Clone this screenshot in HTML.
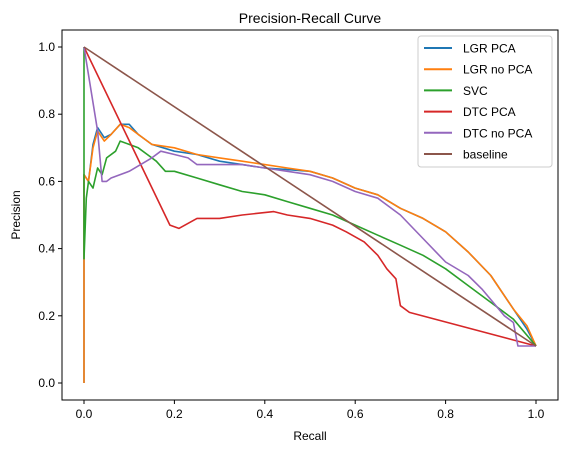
<!DOCTYPE html>
<html><head><meta charset="utf-8"><style>
body{margin:0;background:#fff;}
svg{font-family:"Liberation Sans","DejaVu Sans",sans-serif;}
</style></head><body>
<svg id="chart" width="567" height="453" xmlns="http://www.w3.org/2000/svg">
<rect width="567" height="453" fill="#fff"/>
<text x="310" y="23" text-anchor="middle" font-size="14">Precision-Recall Curve</text>
<g id="axes"></g>
<g id="series"></g>
<rect x="62" y="30" width="496" height="370" fill="none" stroke="#000" stroke-width="1"/>
<g id="legend"></g>
<text x="310" y="440" text-anchor="middle" font-size="12">Recall</text>
<text x="20" y="215" text-anchor="middle" font-size="12" transform="rotate(-90 20 215)">Precision</text>
</svg>
<script>
const xTicks=[0,0.2,0.4,0.6,0.8,1.0];
const yTicks=[0,0.2,0.4,0.6,0.8,1.0];
const seriesNames=["LGR PCA","LGR no PCA","SVC","DTC PCA","DTC no PCA","baseline"];
const seriesColors=["#1f77b4","#ff7f0e","#2ca02c","#d62728","#9467bd","#8c564b"];
const lgrPcaR=[0,0,0.01,0.02,0.03,0.045,0.06,0.08,0.1,0.12,0.15,0.2,0.25,0.3,0.35,0.4,0.45,0.5,0.55,0.6,0.65,0.7,0.75,0.8,0.85,0.9,0.95,0.98,1.0];
const lgrPcaP=[0,0.62,0.6,0.71,0.76,0.73,0.74,0.77,0.77,0.74,0.71,0.69,0.68,0.66,0.65,0.64,0.635,0.63,0.61,0.58,0.56,0.52,0.49,0.45,0.39,0.32,0.22,0.16,0.11];
const lgrNoR=[0,0,0.01,0.02,0.03,0.045,0.06,0.08,0.1,0.12,0.15,0.2,0.25,0.3,0.35,0.4,0.45,0.5,0.55,0.6,0.65,0.7,0.75,0.8,0.85,0.9,0.95,0.98,1.0];
const lgrNoP=[0,0.62,0.6,0.7,0.75,0.72,0.74,0.77,0.76,0.74,0.71,0.70,0.68,0.67,0.66,0.65,0.64,0.63,0.61,0.58,0.56,0.52,0.49,0.45,0.39,0.32,0.22,0.17,0.11];
const svcR=[0,0,0.005,0.01,0.02,0.03,0.04,0.05,0.07,0.08,0.1,0.12,0.14,0.16,0.18,0.2,0.25,0.3,0.35,0.4,0.45,0.5,0.55,0.6,0.65,0.7,0.75,0.8,0.85,0.9,0.95,1.0];
const svcP=[1,0.37,0.55,0.6,0.58,0.64,0.62,0.67,0.69,0.72,0.71,0.70,0.68,0.66,0.63,0.63,0.61,0.59,0.57,0.56,0.54,0.52,0.50,0.47,0.44,0.41,0.38,0.34,0.29,0.24,0.19,0.11];
const dtcPcaR=[0,0.19,0.21,0.25,0.3,0.35,0.42,0.45,0.5,0.55,0.58,0.62,0.65,0.67,0.69,0.7,0.72,1.0];
const dtcPcaP=[1,0.47,0.46,0.49,0.49,0.50,0.51,0.50,0.49,0.47,0.45,0.42,0.38,0.34,0.31,0.23,0.21,0.11];
const dtcNoR=[0,0.03,0.04,0.05,0.06,0.1,0.15,0.17,0.2,0.23,0.25,0.3,0.35,0.4,0.45,0.5,0.55,0.6,0.65,0.7,0.75,0.8,0.85,0.88,0.93,0.95,0.96,1.0];
const dtcNoP=[1,0.75,0.6,0.6,0.61,0.63,0.67,0.69,0.68,0.67,0.65,0.65,0.65,0.64,0.63,0.62,0.60,0.57,0.55,0.50,0.43,0.36,0.32,0.28,0.20,0.18,0.11,0.11];
const baseR=[0,1];
const baseP=[1,0.11];
const allR=[lgrPcaR,lgrNoR,svcR,dtcPcaR,dtcNoR,baseR];
const allP=[lgrPcaP,lgrNoP,svcP,dtcPcaP,dtcNoP,baseP];
const NS="http://www.w3.org/2000/svg";
const xs=v=>84+452*v, ys=v=>383-336*v;
const axes=document.getElementById('axes');
function mk(tag,attrs,parent){const e=document.createElementNS(NS,tag);for(const k in attrs)e.setAttribute(k,attrs[k]);parent.appendChild(e);return e;}
xTicks.forEach(t=>{
  const l=mk('line',{x1:xs(t),x2:xs(t),y1:400,y2:404,stroke:'#000'},axes);
  
  
  const tx=mk('text',{x:xs(t),y:418,'text-anchor':'middle','font-size':'12'},axes);
  tx.textContent=t.toFixed(1);
  
  
});
yTicks.forEach(t=>{
  const l=mk('line',{x1:58,x2:62,y1:ys(t),y2:ys(t),stroke:'#000'},axes);
  
  
  const tx=mk('text',{x:55,y:ys(t)+4,'text-anchor':'end','font-size':'12'},axes);
  tx.textContent=t.toFixed(1);
  
  
});
const sg=document.getElementById('series');
allR.forEach((R,i)=>{
  const pts=R.map((r,j)=>xs(r).toFixed(1)+','+ys(allP[i][j]).toFixed(1)).join(' ');
  const pl=mk('polyline',{points:pts,fill:'none',stroke:seriesColors[i],'stroke-width':'1.6','stroke-linejoin':'round'},sg);
  
  
});
const lg=document.getElementById('legend');
const box=mk('rect',{x:418,y:36,width:134,height:131,rx:3,fill:'#fff','fill-opacity':'0.8',stroke:'#ccc'},lg);


seriesNames.forEach((n,i)=>{
  const y=48+i*21.2;
  const l=mk('line',{x1:424,x2:452,y1:y,y2:y,stroke:seriesColors[i],'stroke-width':'2'},lg);
  
  
  const t=mk('text',{x:463,y:y+4.5,'font-size':'12'},lg);
  t.textContent=n;
  
  
});
</script>
</body></html>
